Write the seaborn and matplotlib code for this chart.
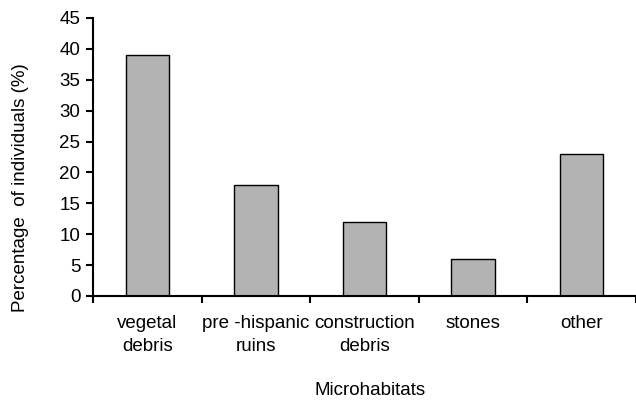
import matplotlib
matplotlib.use("Agg")
import matplotlib.pyplot as plt
import seaborn as sns
from matplotlib.ticker import FixedLocator, MultipleLocator

# data
categories = ["vegetal\ndebris", "pre -hispanic\nruins", "construction\ndebris", "stones", "other"]
percentages = [39, 18, 12, 6, 23]
y_ticks = list(range(0, 50, 5))

sns.set_style("ticks", {"axes.edgecolor": "black", "text.color": "black",
                        "axes.labelcolor": "black", "xtick.color": "black",
                        "ytick.color": "black"})
plt.rcParams["font.family"] = ["Liberation Sans", "DejaVu Sans"]

fig = plt.figure(figsize=(6.36, 4.01), dpi=100)
ax = fig.add_axes([93 / 636, 1 - 296 / 401, 543 / 636, 278 / 401])

sns.barplot(x=categories, y=percentages, color="#b3b3b3", saturation=1,
            width=0.4, edgecolor="black", linewidth=1, ax=ax)

ax.set_xlim(-0.5, 4.5)
ax.set_ylim(0, 45)
ax.set_yticks(y_ticks)
ax.yaxis.set_minor_locator(FixedLocator([]))

# category boundary ticks on the x axis, labels centred on categories
ax.xaxis.set_minor_locator(MultipleLocator(1, offset=0.5))
ax.tick_params(axis="x", which="major", length=0, pad=14, labelsize=13.5)
ax.tick_params(axis="x", which="minor", length=5, width=1.5, direction="out")
ax.tick_params(axis="y", which="major", length=5, width=1.5, direction="out",
               pad=4, labelsize=13.5)
for lbl in ax.get_xticklabels():
    lbl.set_linespacing(1.4)

for side in ["top", "right"]:
    ax.spines[side].set_visible(False)
for side in ["left", "bottom"]:
    ax.spines[side].set_linewidth(1.5)

ax.set_ylabel("Percentage  of individuals (%)", fontsize=13.5)
ax.yaxis.set_label_coords(-0.118, 0.39)
ax.set_xlabel("Microhabitats", fontsize=13.5)
ax.xaxis.set_label_coords(0.51, -0.31)

plt.savefig("out.png", dpi=100)
